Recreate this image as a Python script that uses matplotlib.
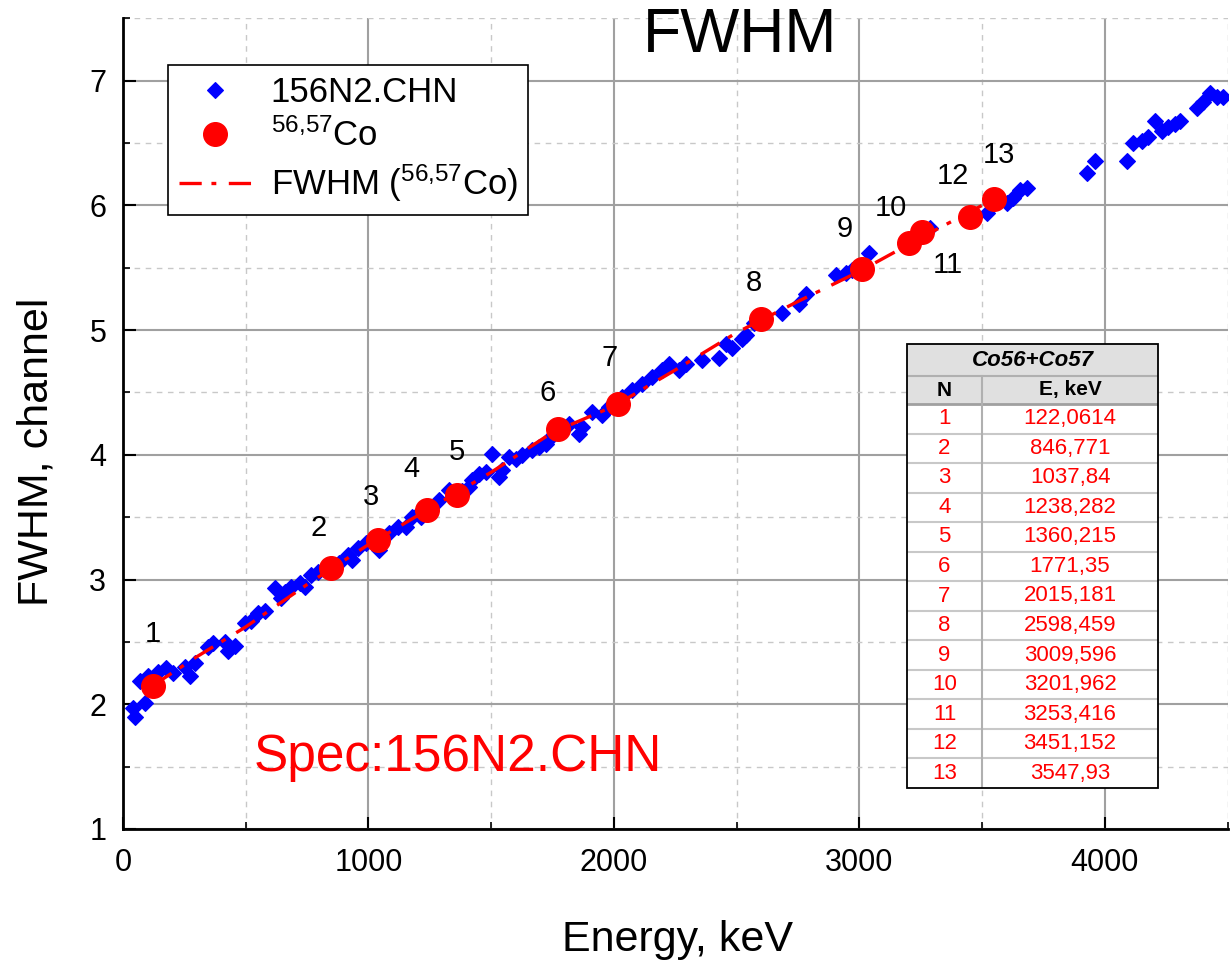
import matplotlib
matplotlib.use("Agg")
import matplotlib.pyplot as plt
from matplotlib.patches import Rectangle

plt.rcParams['font.family'] = ['Liberation Sans', 'DejaVu Sans']
plt.rcParams['mathtext.fontset'] = 'custom'
plt.rcParams['mathtext.rm'] = 'Liberation Sans'
plt.rcParams['mathtext.it'] = 'Liberation Sans:italic'
plt.rcParams['mathtext.bf'] = 'Liberation Sans:bold'
plt.rcParams['lines.scale_dashes'] = False

# ---------------- data ----------------
spec_energy = [41, 49, 69, 90, 102, 143, 176, 204, 253, 273, 294, 347, 367, 416, 429, 457,
               498, 522, 551, 580, 620, 645, 661, 686, 722, 743, 767, 796, 840, 878, 918,
               931, 959, 988, 1041, 1060, 1082, 1122, 1151, 1176, 1204, 1216, 1250, 1286,
               1327, 1380, 1408, 1420, 1449, 1478, 1502, 1531, 1543, 1571, 1600, 1624,
               1665, 1694, 1722, 1743, 1790, 1816, 1857, 1869, 1910, 1951, 1980, 2033,
               2073, 2114, 2155, 2196, 2224, 2265, 2294, 2359, 2429, 2457, 2482, 2522,
               2539, 2570, 2686, 2755, 2784, 2906, 2947, 2971, 3041, 3220, 3286, 3518,
               3560, 3600, 3624, 3653, 3682, 3927, 3959, 4090, 4114, 4151, 4176, 4204,
               4233, 4257, 4286, 4306, 4376, 4400, 4429, 4457, 4482]
spec_fwhm = [1.97, 1.90, 2.19, 2.01, 2.23, 2.26, 2.29, 2.25, 2.30, 2.23, 2.33, 2.46, 2.49,
             2.50, 2.43, 2.47, 2.65, 2.67, 2.73, 2.75, 2.93, 2.85, 2.90, 2.94, 2.97, 2.94,
             3.04, 3.06, 3.10, 3.13, 3.20, 3.16, 3.25, 3.29, 3.24, 3.33, 3.37, 3.42, 3.42,
             3.50, 3.53, 3.50, 3.58, 3.64, 3.72, 3.71, 3.74, 3.80, 3.85, 3.86, 4.01, 3.82,
             3.88, 3.98, 3.97, 4.00, 4.04, 4.06, 4.09, 4.14, 4.21, 4.25, 4.17, 4.22, 4.34,
             4.32, 4.38, 4.46, 4.52, 4.57, 4.62, 4.68, 4.73, 4.68, 4.73, 4.76, 4.78, 4.89,
             4.86, 4.93, 4.96, 5.06, 5.14, 5.21, 5.29, 5.44, 5.46, 5.48, 5.62, 5.74, 5.82,
             5.94, 6.03, 6.02, 6.06, 6.12, 6.14, 6.26, 6.36, 6.36, 6.50, 6.52, 6.55, 6.68,
             6.60, 6.63, 6.65, 6.68, 6.78, 6.83, 6.90, 6.87, 6.87]

cal_n = ['1', '2', '3', '4', '5', '6', '7', '8', '9', '10', '11', '12', '13']
cal_energy_txt = ['122,0614', '846,771', '1037,84', '1238,282', '1360,215', '1771,35',
                  '2015,181', '2598,459', '3009,596', '3201,962', '3253,416', '3451,152',
                  '3547,93']
cal_energy = [122.0614, 846.771, 1037.84, 1238.282, 1360.215, 1771.35, 2015.181,
              2598.459, 3009.596, 3201.962, 3253.416, 3451.152, 3547.93]
cal_fwhm = [2.15, 3.09, 3.32, 3.56, 3.68, 4.21, 4.41, 5.09, 5.49, 5.70, 5.79, 5.91, 6.05]

fit_energy = [122, 300, 500, 750, 1000, 1250, 1500, 1750, 2000, 2250, 2500, 2750, 3000,
              3250, 3548]
fit_fwhm = [2.15, 2.38, 2.62, 2.96, 3.28, 3.57, 3.86, 4.18, 4.39, 4.68, 4.98, 5.23, 5.47,
            5.74, 6.05]

# ---------------- figure ----------------
fig = plt.figure(figsize=(12.3, 9.65), dpi=100)
ax = fig.add_axes([0.1, 0.141, 0.898, 0.840])

ax.plot(spec_energy, spec_fwhm, linestyle='none', marker='D', ms=8.5,
        color='#0000ff', mec='#0000ff', mew=0.8, label='156N2.CHN', zorder=3)
line, = ax.plot(fit_energy, fit_fwhm, color='#ff0000', lw=2.4,
                label=r'FWHM ($^{56{,}57}$Co)', zorder=4)
line.set_dashes((16, 7, 3.5, 9))
ax.plot(cal_energy, cal_fwhm, linestyle='none', marker='o', ms=17,
        color='#ff0000', mec='#ff0000', label=r'$^{56{,}57}$Co', zorder=5)

offsets = [(0, 37), (-9, 29), (-5, 31), (-11, 29), (0, 31), (-7, 26), (-6, 33),
           (-5, 26), (-12, 29), (-13, 25), (19, -24), (-12, 29), (4, 32)]
for n, e, f, off in zip(cal_n, cal_energy, cal_fwhm, offsets):
    ax.annotate(n, (e, f), xytext=off, textcoords='offset points',
                ha='center', va='center', fontsize=21, color='black', zorder=6)

ax.set_xlim(0, 4500)
ax.set_ylim(1, 7.5)
ax.set_xticks([0, 1000, 2000, 3000, 4000])
ax.set_xticks([500, 1500, 2500, 3500, 4500], minor=True)
ax.set_yticks([1, 2, 3, 4, 5, 6, 7])
ax.set_yticks([1.5, 2.5, 3.5, 4.5, 5.5, 6.5, 7.5], minor=True)
ax.tick_params(which='major', direction='in', length=9, width=1.5, labelsize=22,
               colors='black')
ax.tick_params(axis='x', which='major', pad=14)
ax.tick_params(axis='y', which='major', pad=12)
ax.tick_params(which='minor', direction='in', length=5, width=1.2)
ax.grid(which='major', color='#a0a0a0', lw=1.5, ls='-')
ax.grid(which='minor', color='#c8c8c8', lw=1.0, ls=(0, (4, 4)))
ax.set_axisbelow(True)
for s in ['top', 'right']:
    ax.spines[s].set_visible(False)
for s in ['left', 'bottom']:
    ax.spines[s].set_linewidth(2)

fig.text(678 / 1230, 1 - 940 / 965, 'Energy, keV', fontsize=31, ha='center', va='center')
fig.text(37 / 1230, 1 - 452 / 965, 'FWHM, channel', fontsize=31, ha='center',
         va='center', rotation=90)

handles, labels = ax.get_legend_handles_labels()
order = [0, 2, 1]
leg = ax.legend([handles[i] for i in order], [labels[i] for i in order],
                loc='upper left', bbox_to_anchor=(0.041, 0.942), borderaxespad=0,
                fontsize=25, frameon=True, fancybox=False, edgecolor='black',
                framealpha=1, handlelength=2.1, handletextpad=0.55, labelspacing=0.28,
                borderpad=0.3, markerscale=1.0)
leg.get_frame().set_linewidth(1.2)

fig.text(0.602, 0.963, 'FWHM', fontsize=45, ha='center', va='center')
ax.text(0.303, 0.088, 'Spec:156N2.CHN', transform=ax.transAxes, fontsize=37,
        color='#ff0000', ha='center', va='center')

# ---------------- table ----------------
W, H = 251, 444
tax = fig.add_axes([907 / 1230, (965 - 788) / 965, W / 1230, H / 965])
tax.set_xlim(0, W)
tax.set_ylim(H, 0)
tax.axis('off')
title_h, head_h = 32, 28
row_h = (H - title_h - head_h) / len(cal_n)
colx = 75
tax.add_patch(Rectangle((0, 0), W, H, facecolor='white', edgecolor='none', zorder=0))
tax.add_patch(Rectangle((0, 0), W, title_h + head_h, facecolor='#e0e0e0',
                        edgecolor='none', zorder=1))
tax.plot([0, W], [title_h, title_h], color='#b0b0b0', lw=1.5, zorder=2)
tax.plot([0, W], [title_h + head_h, title_h + head_h], color='#a0a0a0', lw=2, zorder=2)
for i in range(1, len(cal_n)):
    y = title_h + head_h + i * row_h
    tax.plot([0, W], [y, y], color='#c8c8c8', lw=1.5, zorder=2)
tax.plot([colx, colx], [title_h, H], color='#b0b0b0', lw=1.5, zorder=2)
tax.add_patch(Rectangle((0, 0), W, H, facecolor='none', edgecolor='black', lw=1.3,
                        zorder=3, clip_on=False))
tax.text(W / 2, title_h / 2, 'Co56+Co57', ha='center', va='center', fontsize=16,
         fontweight='bold', fontstyle='italic')
tax.text(colx / 2, title_h + head_h / 2, 'N', ha='center', va='center', fontsize=15,
         fontweight='bold')
tax.text((colx + W) / 2, title_h + head_h / 2, 'E, keV', ha='center', va='center',
         fontsize=15, fontweight='bold')
for i, (n, e) in enumerate(zip(cal_n, cal_energy_txt)):
    y = title_h + head_h + (i + 0.5) * row_h
    tax.text(colx / 2, y, n, ha='center', va='center', fontsize=16, color='#ff0000')
    tax.text((colx + W) / 2, y, e, ha='center', va='center', fontsize=16, color='#ff0000')

fig.savefig('out.png', dpi=100)
